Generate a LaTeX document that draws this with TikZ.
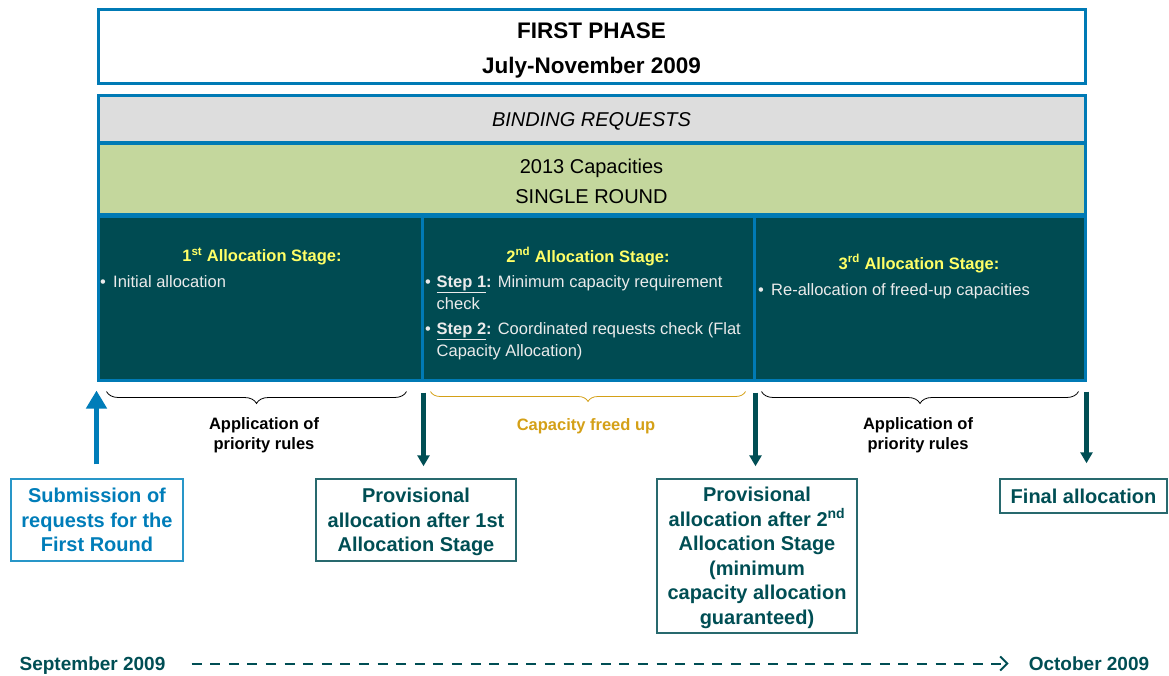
\documentclass[tikz,border=0pt]{standalone}
\usepackage{fontspec}
\setmainfont{Liberation Sans}
\usetikzlibrary{arrows.meta,decorations.pathreplacing,calc}
\definecolor{frameblue}{RGB}{0,122,181}
\definecolor{stagefill}{RGB}{0,75,82}
\definecolor{stageyellow}{RGB}{255,255,102}
\definecolor{graybg}{RGB}{221,221,221}
\definecolor{greenbg}{RGB}{196,215,157}
\definecolor{goldtxt}{RGB}{212,160,23}
\definecolor{tealtxt}{RGB}{0,78,84}
\definecolor{tealline}{RGB}{40,105,110}
\definecolor{subblue}{RGB}{0,125,185}
\definecolor{subline}{RGB}{40,150,200}
\begin{document}
\begin{tikzpicture}[x=1pt,y=-1pt,
  band/.style={draw=frameblue, line width=3pt, rectangle, inner sep=0pt, minimum width=987pt},
  bandtext/.style={inner sep=0pt, align=center},
  stagebox/.style={draw=frameblue, fill=stagefill, line width=3pt, rectangle, inner sep=0pt, minimum height=164pt},
  stagetitle/.style={text=stageyellow, font=\fontsize{16.5}{20}\selectfont\bfseries, inner sep=0pt},
  stagebody/.style={text=white!92!black, font=\fontsize{16.5}{22}\selectfont, inner sep=0pt, align=left, anchor=north west},
  outbox/.style={draw=tealline, line width=1.5pt, rectangle, inner sep=0pt, text=tealtxt, align=center, font=\fontsize{20}{24.5}\selectfont\bfseries},
  uparrow/.style={draw=subblue, line width=5pt, -{Triangle[width=20pt,length=18pt]}},
  downarrow/.style={draw=tealtxt, line width=5pt, -{Triangle[width=12pt,length=11pt]}},
  bracelabel/.style={font=\fontsize{16.5}{20}\selectfont\bfseries, align=center, inner sep=0pt},
  bracestyle/.style={decorate, decoration={brace, amplitude=12pt}, line width=0.8pt},
  datetext/.style={text=tealtxt, font=\fontsize{19}{22}\selectfont\bfseries, inner sep=0pt, anchor=base}
]
\useasboundingbox (0,0) rectangle (1169,675);

% header bands
\node[band, fill=white, minimum height=74pt] (phase) at (591.5,46) {};
\node[bandtext, font=\fontsize{22.5}{35}\selectfont\bfseries] (phasetext) at ([yshift=-4pt]phase.center) {FIRST PHASE\\July-November 2009};
\node[band, fill=graybg, minimum height=47pt] (binding) at (591.5,118.5) {};
\node[bandtext, font=\fontsize{20}{24}\selectfont\itshape] (bindingtext) at ([yshift=-3pt]binding.center) {BINDING REQUESTS};
\node[band, fill=greenbg, minimum height=71pt] (caps) at (591.5,179) {};
\node[bandtext, font=\fontsize{20}{30}\selectfont] (capstext) at ([yshift=-2pt]caps.center) {2013 Capacities\\SINGLE ROUND};

% stage boxes
\node[stagebox, minimum width=324pt] (s1) at (260,298) {};
\node[stagebox, minimum width=332pt] (s2) at (588,298) {};
\node[stagebox, minimum width=331pt] (s3) at (919.5,298) {};

\node[stagetitle] (t1) at (262,256.5) {1\textsuperscript{st} Allocation Stage:};
\node[stagetitle] (t2) at (588,256.5) {2\textsuperscript{nd} Allocation Stage:};
\node[stagetitle] (t3) at (919,263.5) {3\textsuperscript{rd} Allocation Stage:};

\node[stagebody] (b1) at (100,275) {\makebox[13pt][l]{\textbullet}Initial allocation};
\node[stagebody] (b2) at (425,275) {\makebox[11.5pt][l]{\textbullet}\textbf{\underline{Step 1}:} Minimum capacity requirement\\\hspace*{11.5pt}check\\[3pt]\makebox[11.5pt][l]{\textbullet}\textbf{\underline{Step 2}:} Coordinated requests check (Flat\\\hspace*{11.5pt}Capacity Allocation)};
\node[stagebody] (b3) at (758,283) {\makebox[13pt][l]{\textbullet}Re-allocation of freed-up capacities};

% output boxes
\node[outbox, draw=subline, text=subblue, minimum width=172pt, minimum height=82pt, text depth=2pt] (sub) at (97,520) {\rule{0pt}{16pt}Submission of\\requests for the\\First Round};
\node[outbox, minimum width=200pt, minimum height=82pt, text depth=2pt] (p1) at (416,520) {\rule{0pt}{16pt}Provisional\\allocation after 1st\\Allocation Stage};
\node[outbox, minimum width=200pt, minimum height=154pt, text depth=2pt] (p2) at (757,556) {\rule{0pt}{16pt}Provisional\\allocation after 2\textsuperscript{nd}\\Allocation Stage\\(minimum\\capacity allocation\\guaranteed)};
\node[outbox, minimum width=167pt, minimum height=34pt] (fin) at (1083.5,496) {Final allocation};

% arrows
\draw[uparrow] ([yshift=14pt]sub.north -| s1.south west) -- ([yshift=-9pt]s1.south west);
\draw[downarrow] ([yshift=-11pt]s1.south east) -- ([yshift=12pt]p1.north -| s1.south east);
\draw[downarrow] ([yshift=-11pt]s2.south east) -- ([yshift=12pt]p2.north -| s2.south east);
\draw[downarrow] ([yshift=-10pt]s3.south east) -- ([yshift=15pt]fin.north -| s3.south east);

% braces
\draw[bracestyle] ([xshift=-17pt,yshift=-10pt]s1.south east) -- ([xshift=10pt,yshift=-10pt]s1.south west);
\draw[bracestyle, draw=goldtxt, decoration={brace, amplitude=10pt}] ([xshift=-10pt,yshift=-10pt]s2.south east) -- ([xshift=10pt,yshift=-10pt]s2.south west);
\draw[bracestyle] ([xshift=-8pt,yshift=-10pt]s3.south east) -- ([xshift=9pt,yshift=-10pt]s3.south west);

\node[bracelabel] (l1) at (264,435) {Application of\\priority rules};
\node[bracelabel, text=goldtxt] (l2) at (586,426) {Capacity freed up};
\node[bracelabel] (l3) at (918,435) {Application of\\priority rules};

% timeline
\node[datetext] (sept) at (92.5,670) {September 2009};
\node[datetext] (oct) at (1089,670) {October 2009};
\draw[draw=tealtxt, line width=2pt, dash pattern=on 10pt off 8.6pt, -{Straight Barb[length=7pt,width=14pt]}] ([xshift=26pt,yshift=6.5pt]sept.base east) -- ([xshift=-20pt,yshift=6.5pt]oct.base west);
\end{tikzpicture}
\end{document}
